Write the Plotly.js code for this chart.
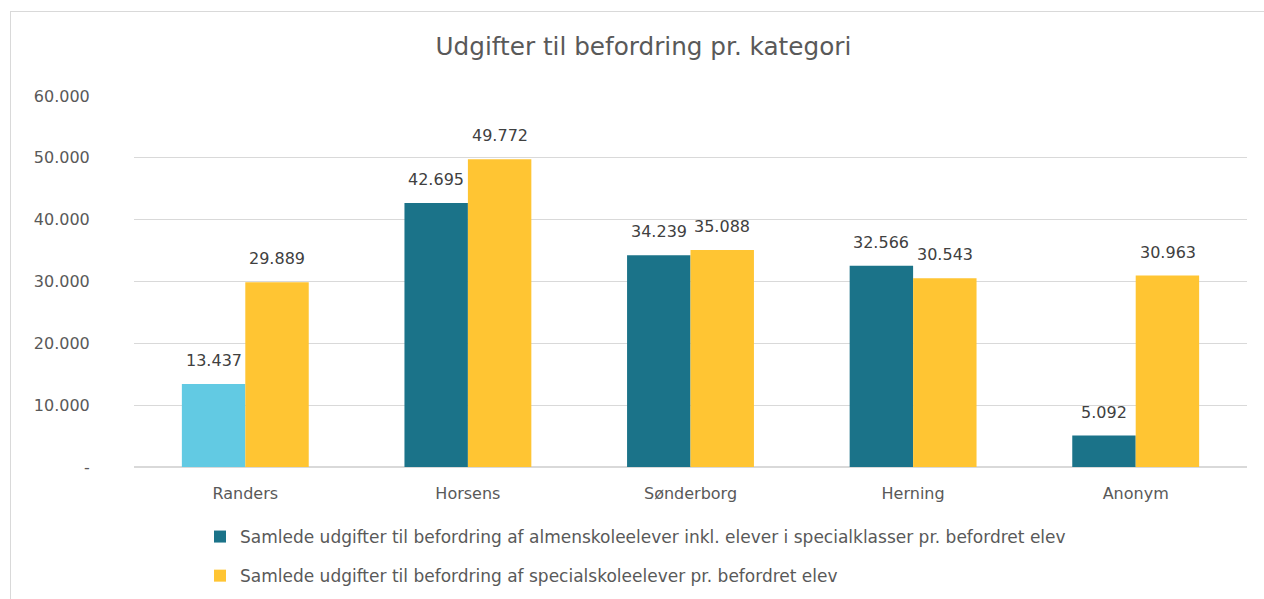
<!DOCTYPE html>
<html>
<head>
<meta charset="utf-8">
<script src="https://cdn.plot.ly/plotly-3.0.1.min.js"></script>
<style>
html,body{margin:0;padding:0;background:#fff;overflow:hidden;}
#frame{position:absolute;left:10px;top:11px;width:1270px;height:600px;border:1px solid #d9d9d9;box-sizing:border-box;}
#chart{position:absolute;left:0;top:0;width:1264px;height:599px;}
</style>
</head>
<body>
<div id="frame"></div>
<div id="chart"></div>
<script>
const categories = ["Randers", "Horsens", "Sønderborg", "Herning", "Anonym"];
const almenValues = [13437, 42695, 34239, 32566, 5092];
const specialValues = [29889, 49772, 35088, 30543, 30963];
const seriesNames = [
  "Samlede udgifter til befordring af almenskoleelever inkl. elever i specialklasser pr. befordret elev",
  "Samlede udgifter til befordring af specialskoleelever pr. befordret elev"
];
const yTickVals = [0, 10000, 20000, 30000, 40000, 50000, 60000];
const yTickText = ["-", "10.000", "20.000", "30.000", "40.000", "50.000", "60.000"];
const titleText = "Udgifter til befordring pr. kategori";

const teal = "#1b7389";
const lightBlue = "#62cae3";
const yellow = "#ffc533";
const FONT = "'DejaVu Sans', sans-serif";

const almenColors = categories.map((c, i) => i === 0 ? lightBlue : teal);
const fmt = v => String(v).replace(/\B(?=(\d{3})+(?!\d))/g, ".");

const traces = [
  {
    type: "bar", x: categories, y: almenValues, name: seriesNames[0],
    marker: {color: almenColors}, showlegend: false, hoverinfo: "x+y"
  },
  {
    type: "bar", x: categories, y: specialValues, name: seriesNames[1],
    marker: {color: yellow}, legendgroup: "b", legendrank: 2, hoverinfo: "x+y"
  },
  {
    // legend entry only (series colour), on an overlaid hidden axis
    type: "bar", x: categories, y: categories.map(() => null), name: seriesNames[0],
    marker: {color: teal}, legendgroup: "a", legendrank: 1, xaxis: "x2", hoverinfo: "skip"
  }
];

const labelShift = 31.8;
const annotations = [];
categories.forEach((c, i) => {
  [[almenValues[i], -labelShift], [specialValues[i], labelShift]].forEach(([v, dx]) => {
    annotations.push({
      x: c, y: v, xref: "x", yref: "y", text: fmt(v), showarrow: false,
      xanchor: "center", yanchor: "bottom", xshift: dx, yshift: 12,
      font: {family: FONT, size: 16, color: "#404040"}
    });
  });
});

const layout = {
  width: 1264, height: 599,
  paper_bgcolor: "rgba(0,0,0,0)", plot_bgcolor: "rgba(0,0,0,0)",
  margin: {l: 134, r: 17, t: 96, b: 132, autoexpand: false},
  separators: ",.",
  font: {family: FONT, color: "#595959", size: 16},
  title: {text: titleText, x: 0.509, xanchor: "center", y: 0.922, yanchor: "middle",
          font: {family: FONT, size: 24.7, color: "#595959"}},
  barmode: "group", bargap: 0.43, bargroupgap: 0,
  xaxis: {type: "category", showgrid: false, ticks: "outside", ticklen: 12, automargin: false,
          tickcolor: "rgba(0,0,0,0)", tickfont: {family: FONT, size: 16, color: "#595959"},
          tickangle: 0, showline: false, zeroline: false},
  xaxis2: {type: "category", overlaying: "x", visible: false, matches: "x"},
  yaxis: {range: [0, 60000], tickvals: yTickVals, ticktext: yTickText, automargin: false,
          showgrid: true, gridcolor: "#d9d9d9", gridwidth: 1.3,
          zeroline: true, zerolinecolor: "#d9d9d9", zerolinewidth: 1.3,
          ticks: "outside", ticklen: 40, tickcolor: "rgba(0,0,0,0)",
          tickfont: {family: FONT, size: 16, color: "#595959"}, showline: false},
  annotations: annotations,
  showlegend: true,
  legend: {orientation: "v", xref: "container", yref: "container",
           x: 200 / 1264, xanchor: "left", y: 1 - 519 / 599, yanchor: "top",
           font: {family: FONT, size: 17, color: "#595959"},
           traceorder: "grouped", tracegroupgap: 14, itemwidth: 30, bgcolor: "rgba(0,0,0,0)"}
};

Plotly.newPlot("chart", traces, layout, {displayModeBar: false, staticPlot: true});
</script>
</body>
</html>
